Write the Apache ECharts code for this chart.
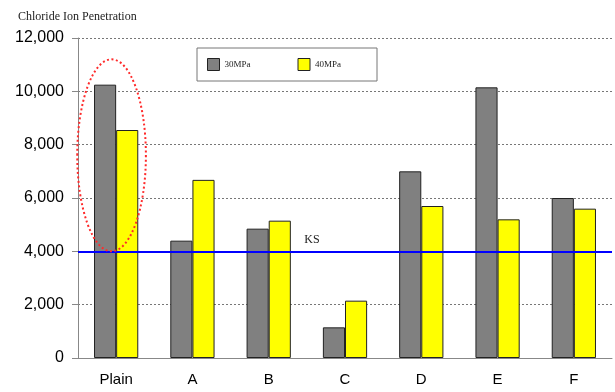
<!DOCTYPE html>
<html lang="en">
<head>
    <meta charset="utf-8">
    <title>chloride</title>
    <script src="https://cdn.jsdelivr.net/npm/echarts@6/dist/echarts.min.js"></script>
</head>
<body style="margin:0">
    <div id="main" style="width: 615px;height:392px;"></div>
    <script>
    var categories = ['Plain', 'A', 'B', 'C', 'D', 'E', 'F'];
    var mpa30 = [10250, 4400, 4850, 1150, 7000, 10150, 6000];
    var mpa40 = [8550, 6680, 5150, 2150, 5700, 5200, 5600];
    var ksLevel = 4000;
    // dotted ring drawn round the Plain pair (value range)
    var ringRange = [4000, 11200];

    var myChart = echarts.init(document.getElementById('main'));

    var barStyle = function (c) {
        return { color: c, borderColor: '#222', borderWidth: 1 };
    };

    var option = {
        animation: false,
        title: {
            text: 'Chloride Ion Penetration',
            left: 13,
            top: 6,
            textStyle: {
                fontFamily: 'Liberation Serif',
                fontWeight: 'normal',
                fontSize: 12,
                color: '#222'
            }
        },
        legend: {
            left: 197,
            top: 48,
            padding: [10, 36, 10, 10],
            borderColor: '#777',
            borderWidth: 1,
            icon: 'rect',
            itemWidth: 12,
            itemHeight: 12,
            itemGap: 47,
            textStyle: {
                fontFamily: 'Liberation Serif',
                fontSize: 9,
                color: '#222'
            },
            data: [
                { name: '30MPa', itemStyle: barStyle('#808080') },
                { name: '40MPa', itemStyle: barStyle('#ffff00') }
            ]
        },
        grid: { left: 78, right: 3, top: 38, bottom: 34 },
        xAxis: {
            type: 'category',
            data: categories,
            axisLine: { lineStyle: { color: '#888' } },
            axisTick: { lineStyle: { color: '#888' }, length: 5 },
            axisLabel: {
                fontFamily: 'Liberation Sans',
                fontSize: 15,
                color: '#000',
                margin: 14
            }
        },
        yAxis: {
            type: 'value',
            min: 0,
            max: 12000,
            interval: 2000,
            axisLine: { show: true, lineStyle: { color: '#888' } },
            axisTick: { show: true, inside: false, length: 6, lineStyle: { color: '#888' } },
            axisLabel: {
                fontFamily: 'Liberation Sans',
                fontSize: 16,
                color: '#000',
                margin: 14,
                formatter: function (v) { return v.toLocaleString('en-US'); }
            },
            splitLine: { lineStyle: { color: '#777', type: [2, 2] } }
        },
        series: [
            {
                name: '30MPa',
                type: 'bar',
                data: mpa30,
                barGap: '0%',
                barCategoryGap: '42%',
                itemStyle: barStyle('#808080'),
                markLine: {
                    silent: true,
                    symbol: 'none',
                    lineStyle: { color: '#0000ff', type: 'solid', width: 2 },
                    label: {
                        formatter: 'KS',
                        position: 'insideMiddleTop',
                        offset: [-33, 0],
                        fontFamily: 'Liberation Serif',
                        fontSize: 12,
                        color: '#222'
                    },
                    data: [{ yAxis: ksLevel }]
                }
            },
            {
                name: '40MPa',
                type: 'bar',
                data: mpa40,
                itemStyle: barStyle('#ffff00')
            }
        ]
    };
    myChart.setOption(option);

    // ellipse placed through the chart's own scales
    var finder = { xAxisIndex: 0, yAxisIndex: 0 };
    var ringTop = myChart.convertToPixel(finder, [categories[0], ringRange[1]]);
    var ringBot = myChart.convertToPixel(finder, [categories[0], ringRange[0]]);
    var ringNext = myChart.convertToPixel(finder, [categories[1], ringRange[0]]);
    var band = ringNext[0] - ringBot[0];
    myChart.setOption({
        graphic: [{
            type: 'ellipse',
            shape: {
                cx: ringBot[0] - band * 0.06,
                cy: (ringTop[1] + ringBot[1]) / 2,
                rx: band * 0.45,
                ry: (ringBot[1] - ringTop[1]) / 2
            },
            style: { fill: null, stroke: '#ff2a2a', lineWidth: 2, lineDash: [2, 2.5] },
            z: 10
        }]
    });
    </script>
</body>
</html>
